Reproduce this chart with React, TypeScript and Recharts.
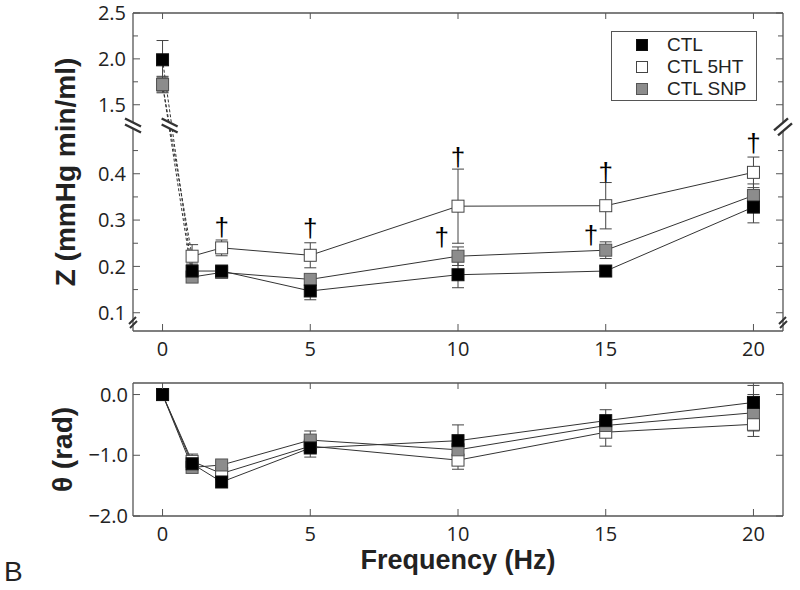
import React from "react";
import { ComposedChart, Line, XAxis, YAxis, ErrorBar, Scatter, ReferenceDot, Legend } from "recharts";

// frequency points (Hz)
const freq = [0, 1, 2, 5, 10, 15, 20];

// Z (mmHg min/ml): mean and error per frequency
const zCtl = [1.99, 0.19, 0.19, 0.147, 0.182, 0.19, 0.328];
const zCtlErr = [0.21, 0.015, 0.01, 0.019, 0.028, 0.01, 0.034];
const z5ht = [1.72, 0.222, 0.24, 0.224, 0.33, 0.331, 0.403];
const z5htErr = [0.08, 0.025, 0.017, 0.027, 0.08, 0.05, 0.033];
const zSnp = [1.72, 0.177, 0.187, 0.172, 0.222, 0.235, 0.353];
const zSnpErr = [0.09, 0.01, 0.01, 0.01, 0.02, 0.018, 0.025];

// theta (rad): mean and error per frequency
const thCtl = [0, -1.14, -1.44, -0.88, -0.76, -0.43, -0.13];
const thCtlErr = [0, 0.1, 0.05, 0.15, 0.26, 0.18, 0.28];
const th5ht = [0, -1.1, -1.3, -0.85, -1.08, -0.62, -0.49];
const th5htErr = [0, 0.12, 0.05, 0.1, 0.15, 0.23, 0.2];
const thSnp = [0, -1.2, -1.16, -0.75, -0.91, -0.51, -0.3];
const thSnpErr = [0, 0.08, 0.05, 0.15, 0.1, 0.1, 0.3];

// significance daggers (frequency, Z)
const daggerFreq = [2, 5, 10, 9.45, 15, 14.5, 20];
const daggerZ = [0.284, 0.282, 0.435, 0.263, 0.403, 0.267, 0.465];

// ticks
const freqTicks = [0, 5, 10, 15, 20];
const zMajorTicks = [0.1, 0.2, 0.3, 0.4, 1.5, 2.0, 2.5];
const zMinorTicks = [0.15, 0.25, 0.35, 0.45, 1.75, 2.25];
const thetaTicks = [0, -1, -2];

const legendNames = ["CTL", "CTL 5HT", "CTL SNP"];

// broken Z axis: lower segment up to 0.5, upper segment starts at 1.253 and is compressed
const Z_MIN = 0.0606;
const Z_MAX = 2.5;
const Z_BREAK = 0.5;
const Z_UPPER_START = 1.253;
const Z_K = 0.198;
const tz = (v: number) => (v <= Z_BREAK ? v : Z_BREAK + (v - Z_UPPER_START) * Z_K);
const itz = (t: number) => (t <= Z_BREAK + 1e-9 ? t : Z_UPPER_START + (t - Z_BREAK) / Z_K);

const AXIS = "#555";
const TEXT = "#222";
const TICK_FONT = "'Open Sans', 'Noto Sans', sans-serif";
const TITLE_FONT = "'Liberation Sans', Arial, sans-serif";
const TICK_SIZE = 20;

const SERIES = [
  { name: "CTL 5HT", fill: "#ffffff", stroke: "#444", z: z5ht, zErr: z5htErr, th: th5ht, thErr: th5htErr },
  { name: "CTL SNP", fill: "#8c8c8c", stroke: "#555", z: zSnp, zErr: zSnpErr, th: thSnp, thErr: thSnpErr },
  { name: "CTL", fill: "#000000", stroke: "#111", z: zCtl, zErr: zCtlErr, th: thCtl, thErr: thCtlErr },
];

const zRows = (vals: number[], errs: number[]) =>
  freq.map((f, i) => {
    const t = tz(vals[i]);
    return { x: f, t, err: [t - tz(vals[i] - errs[i]), tz(vals[i] + errs[i]) - t] };
  });

const thRows = (vals: number[], errs: number[]) =>
  freq.map((f, i) => ({ x: f, t: vals[i], err: [errs[i], errs[i]] }));

const daggerRows = daggerFreq.map((f, i) => ({ x: f, t: tz(daggerZ[i]) }));
const zTicks = [...zMajorTicks, ...zMinorTicks].map(tz).sort((a, b) => a - b);

const isMajorZ = (v: number) => zMajorTicks.some((m) => Math.abs(m - v) < 0.01);

const square = (fill: string, stroke: string) => (p: any) => (
  <rect key={`sq-${p.index}`} x={p.cx - 6} y={p.cy - 6} width={12} height={12} fill={fill} stroke={stroke} strokeWidth={1} />
);

const ZTickLeft = (p: any) => {
  const v = itz(p.payload.value);
  const major = isMajorZ(v);
  return (
    <g>
      <line x1={p.x} x2={p.x + (major ? 7 : 5)} y1={p.y} y2={p.y} stroke={AXIS} />
      {major && (
        <text x={p.x - 7} y={p.y} dy="0.36em" textAnchor="end" fontSize={TICK_SIZE} fontFamily={TICK_FONT} fill={TEXT}>
          {v.toFixed(1)}
        </text>
      )}
    </g>
  );
};

const ZTickRight = (p: any) => {
  const major = isMajorZ(itz(p.payload.value));
  return <line x1={p.x} x2={p.x - (major ? 7 : 5)} y1={p.y} y2={p.y} stroke={AXIS} />;
};

const ThTickLeft = (p: any) => (
  <g>
    <line x1={p.x} x2={p.x + 7} y1={p.y} y2={p.y} stroke={AXIS} />
    <text x={p.x - 5} y={p.y} dy="0.36em" textAnchor="end" fontSize={TICK_SIZE} fontFamily={TICK_FONT} fill={TEXT}>
      {p.payload.value === 0 ? "0.0" : `\u2212${Math.abs(p.payload.value).toFixed(1)}`}
    </text>
  </g>
);

const ThTickRight = (p: any) => <line x1={p.x} x2={p.x - 7} y1={p.y} y2={p.y} stroke={AXIS} />;

const XTickBottom = (p: any) => (
  <g>
    <line x1={p.x} x2={p.x} y1={p.y} y2={p.y - 7} stroke={AXIS} />
    <text x={p.x} y={p.y + 18} dy="0.36em" textAnchor="middle" fontSize={TICK_SIZE} fontFamily={TICK_FONT} fill={TEXT}>
      {p.payload.value}
    </text>
  </g>
);

const XTickTop = (p: any) => <line x1={p.x} x2={p.x} y1={p.y} y2={p.y + 6} stroke={AXIS} />;

const YTitle = ({ viewBox, text, dx }: any) => {
  const x = viewBox.x + viewBox.width - dx;
  const y = viewBox.y + viewBox.height / 2;
  return (
    <text x={x} y={y} transform={`rotate(-90, ${x}, ${y})`} textAnchor="middle" dominantBaseline="central"
      fontSize={28} fontWeight="bold" fontFamily={TITLE_FONT} fill={TEXT}>
      {text}
    </text>
  );
};

const XTitle = ({ viewBox, text }: any) => (
  <text x={viewBox.x + viewBox.width / 2} y={viewBox.y + 43} dy="0.36em" textAnchor="middle"
    fontSize={27} fontWeight="bold" fontFamily={TITLE_FONT} fill={TEXT}>
    {text}
  </text>
);

// "//" marks for the axis break
const BreakMark = ({ cx, cy, kind }: any) => {
  const c = "#333";
  if (kind === "left") {
    return (
      <g>
        <polygon points={`${cx - 8},${cy - 7} ${cx + 8},${cy + 1} ${cx + 8},${cy + 7} ${cx - 8},${cy - 1}`} fill="#fff" />
        <line x1={cx - 8} y1={cy - 7} x2={cx + 8} y2={cy + 1} stroke={c} strokeWidth={2.4} />
        <line x1={cx - 8} y1={cy - 1} x2={cx + 8} y2={cy + 7} stroke={c} strokeWidth={2.4} />
      </g>
    );
  }
  if (kind === "right") {
    return (
      <g>
        <polygon points={`${cx - 9},${cy + 3} ${cx + 5},${cy - 9} ${cx + 9},${cy - 4} ${cx - 5},${cy + 8}`} fill="#fff" />
        <line x1={cx - 9} y1={cy + 3} x2={cx + 5} y2={cy - 9} stroke={c} strokeWidth={2.4} />
        <line x1={cx - 5} y1={cy + 8} x2={cx + 9} y2={cy - 4} stroke={c} strokeWidth={2.4} />
      </g>
    );
  }
  return (
    <g>
      <line x1={cx - 4} y1={cy + 2} x2={cx + 3} y2={cy - 5} stroke={c} strokeWidth={2} />
      <line x1={cx - 3} y1={cy + 6} x2={cx + 4} y2={cy - 1} stroke={c} strokeWidth={2} />
    </g>
  );
};

const Dagger = (p: any) => (
  <text x={p.cx} y={p.cy} dy="0.32em" textAnchor="middle" fontSize={26} fontFamily={TITLE_FONT} fill="#000" stroke="none">
    {"\u2020"}
  </text>
);

const LegendBox = () => (
  <div style={{ position: "relative", width: 144, height: 68, border: `1px solid ${AXIS}`, background: "#fff",
    fontFamily: TITLE_FONT, fontSize: 19, color: TEXT }}>
    {legendNames.map((name, i) => {
      const s = SERIES.find((d) => d.name === name)!;
      return (
        <div key={name} style={{ position: "absolute", left: 0, top: 2 + i * 22, height: 22, width: 144 }}>
          <span style={{ position: "absolute", left: 24, top: 5, width: 10, height: 10, background: s.fill,
            border: `1px solid ${s.stroke}` }} />
          <span style={{ position: "absolute", left: 55, top: 0, lineHeight: "22px", whiteSpace: "nowrap" }}>{name}</span>
        </div>
      );
    })}
  </div>
);

const lineStyle = { stroke: "#333", strokeWidth: 1 };
const MARGIN = { top: 12, right: 16, bottom: 0, left: 132 };

function ZChart() {
  return (
    <ComposedChart width={800} height={362} margin={MARGIN}>
      <XAxis xAxisId="b" type="number" dataKey="x" domain={[-1, 21]} ticks={freqTicks} interval={0} allowDataOverflow
        tickSize={0} tickMargin={0} tick={XTickBottom} height={31} stroke={AXIS} strokeWidth={1.3} />
      <XAxis xAxisId="t" orientation="top" type="number" dataKey="x" domain={[-1, 21]} ticks={freqTicks} interval={0}
        allowDataOverflow tickSize={0} tickMargin={0} tick={XTickTop} height={1} stroke={AXIS} strokeWidth={1.3} />
      <YAxis yAxisId="l" type="number" domain={[tz(Z_MIN), tz(Z_MAX)]} ticks={zTicks} interval={0} allowDataOverflow
        tickSize={0} tickMargin={0} tick={ZTickLeft} width={1} stroke={AXIS} strokeWidth={1.3}
        label={<YTitle text="Z (mmHg min/ml)" dx={68} />} />
      <YAxis yAxisId="r" orientation="right" type="number" domain={[tz(Z_MIN), tz(Z_MAX)]} ticks={zTicks} interval={0}
        allowDataOverflow tickSize={0} tickMargin={0} tick={ZTickRight} width={1} stroke={AXIS} strokeWidth={1.3} />

      {SERIES.map((s) => (
        <Line key={`dash-${s.name}`} xAxisId="b" yAxisId="l" data={zRows(s.z, s.zErr).slice(0, 2)} dataKey="t"
          {...lineStyle} strokeDasharray="3 2" dot={false} activeDot={false} legendType="none" isAnimationActive={false} />
      ))}
      {SERIES.map((s) => (
        <Line key={`line-${s.name}`} xAxisId="b" yAxisId="l" data={zRows(s.z, s.zErr).slice(1)} dataKey="t"
          {...lineStyle} dot={false} activeDot={false} legendType="none" isAnimationActive={false} />
      ))}
      {SERIES.map((s) => (
        <Line key={`pts-${s.name}`} xAxisId="b" yAxisId="l" data={zRows(s.z, s.zErr)} dataKey="t" name={s.name}
          stroke="none" strokeWidth={0} dot={square(s.fill, s.stroke)} activeDot={false} isAnimationActive={false}>
          <ErrorBar dataKey="err" direction="y" width={6} stroke="#444" strokeWidth={1} />
        </Line>
      ))}

      <Scatter xAxisId="b" yAxisId="l" data={daggerRows} dataKey="t" shape={Dagger} legendType="none" isAnimationActive={false} />

      <ReferenceDot xAxisId="b" yAxisId="l" x={-1} y={Z_BREAK + 0.004} ifOverflow="visible" shape={(p: any) => <BreakMark {...p} kind="left" />} />
      <ReferenceDot xAxisId="b" yAxisId="l" x={0.24} y={Z_BREAK + 0.004} ifOverflow="visible" shape={(p: any) => <BreakMark {...p} kind="left" />} />
      <ReferenceDot xAxisId="b" yAxisId="l" x={21} y={Z_BREAK} ifOverflow="visible" shape={(p: any) => <BreakMark {...p} kind="right" />} />
      <ReferenceDot xAxisId="b" yAxisId="l" x={-1} y={0.08} ifOverflow="visible" shape={(p: any) => <BreakMark {...p} kind="corner" />} />
      <ReferenceDot xAxisId="b" yAxisId="l" x={21} y={0.08} ifOverflow="visible" shape={(p: any) => <BreakMark {...p} kind="corner" />} />

      <Legend layout="horizontal" verticalAlign="middle" align="center" content={<LegendBox />}
        wrapperStyle={{ left: 611, top: 31, width: 146, height: 70 }} />
    </ComposedChart>
  );
}

function ThetaChart() {
  return (
    <ComposedChart width={800} height={220} margin={MARGIN}>
      <XAxis xAxisId="b" type="number" dataKey="x" domain={[-1, 21]} ticks={freqTicks} interval={0} allowDataOverflow
        tickSize={0} tickMargin={0} tick={XTickBottom} height={74} stroke={AXIS} strokeWidth={1.3}
        label={<XTitle text="Frequency (Hz)" />} />
      <XAxis xAxisId="t" orientation="top" type="number" dataKey="x" domain={[-1, 21]} ticks={freqTicks} interval={0}
        allowDataOverflow tickSize={0} tickMargin={0} tick={XTickTop} height={1} stroke={AXIS} strokeWidth={1.3} />
      <YAxis yAxisId="l" type="number" domain={[-2, 0.19]} ticks={thetaTicks} interval={0} allowDataOverflow
        tickSize={0} tickMargin={0} tick={ThTickLeft} width={1} stroke={AXIS} strokeWidth={1.3}
        label={<YTitle text={"\u03b8 (rad)"} dx={71} />} />
      <YAxis yAxisId="r" orientation="right" type="number" domain={[-2, 0.19]} ticks={thetaTicks} interval={0}
        allowDataOverflow tickSize={0} tickMargin={0} tick={ThTickRight} width={1} stroke={AXIS} strokeWidth={1.3} />

      {SERIES.map((s) => (
        <Line key={`line-${s.name}`} xAxisId="b" yAxisId="l" data={thRows(s.th, s.thErr)} dataKey="t"
          {...lineStyle} dot={false} activeDot={false} legendType="none" isAnimationActive={false} />
      ))}
      {SERIES.map((s) => (
        <Line key={`pts-${s.name}`} xAxisId="b" yAxisId="l" data={thRows(s.th, s.thErr)} dataKey="t" name={s.name}
          stroke="none" strokeWidth={0} dot={square(s.fill, s.stroke)} activeDot={false} isAnimationActive={false}>
          <ErrorBar dataKey="err" direction="y" width={6} stroke="#444" strokeWidth={1} />
        </Line>
      ))}
    </ComposedChart>
  );
}

export default function App() {
  return (
    <div style={{ position: "absolute", left: 0, top: 0, width: 800, height: 590, background: "#fff", overflow: "hidden" }}>
      <div style={{ position: "absolute", left: 0, top: 0 }}>
        <ZChart />
      </div>
      <div style={{ position: "absolute", left: 0, top: 370 }}>
        <ThetaChart />
      </div>
      <div style={{ position: "absolute", left: 4, top: 558, fontFamily: TITLE_FONT, fontSize: 28, lineHeight: 1, color: TEXT }}>
        B
      </div>
    </div>
  );
}
